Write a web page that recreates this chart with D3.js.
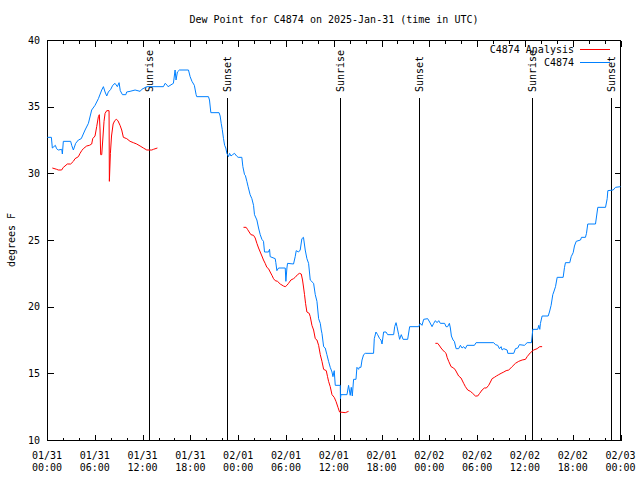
<!DOCTYPE html>
<html><head><meta charset="utf-8">
<script src="https://cdn.jsdelivr.net/npm/d3@7"></script>
<style>
body{margin:0;background:#fff}
svg{display:block}
text{font-family:"DejaVu Sans Mono","Liberation Mono",monospace;font-size:10px;fill:#000}
</style></head><body>
<svg id="c" width="640" height="480"></svg>
<script>
const chartTitle = "Dew Point for C4874 on 2025-Jan-31 (time in UTC)";
const yLabel = "degrees F";
const startTime = "2025-01-31T00:00:00Z";
const endTime = "2025-02-03T00:00:00Z";
const yTicks = [10, 15, 20, 25, 30, 35, 40];
const seriesNames = ["C4874 Analysis", "C4874"];
const seriesColors = ["#ff0000", "#0080ff"];

// hours after start, dew point (F)
const stationSeries = [[0.04,32.7],[0.55,32.7],[0.67,31.9],[1.05,32.1],[1.2,31.85],[1.42,31.75],[1.85,31.8],[1.93,31.45],[2.05,32.4],[2.97,32.4],[3.1,32.1],[3.31,31.75],[3.6,32.25],[3.94,32.5],[4.3,32.6],[4.78,33.25],[5.2,33.75],[5.61,34.75],[6.03,35.1],[6.45,35.6],[6.87,36.25],[7.08,36.5],[7.29,36.1],[7.5,35.8],[7.7,36.1],[8.0,36.3],[8.25,36.6],[8.54,36.75],[8.83,36.5],[9.05,36.8],[9.2,36.2],[9.47,35.9],[9.9,35.9],[10.0,36.1],[10.43,36.15],[11.06,36.25],[11.69,36.15],[11.9,36.3],[12.52,36.5],[14.62,36.5],[14.83,36.75],[15.1,36.6],[15.2,36.5],[15.87,36.75],[16.08,37.75],[16.2,37.0],[16.37,37.6],[16.63,37.75],[17.76,37.75],[17.97,37.25],[18.2,36.9],[18.5,36.6],[18.72,35.9],[18.8,35.75],[20.27,35.75],[20.4,35.5],[20.57,34.55],[21.6,34.55],[21.74,34.3],[21.87,33.75],[22.0,33.3],[22.16,32.6],[22.3,32.1],[22.45,31.9],[22.58,31.5],[22.79,31.25],[22.92,31.5],[23.1,31.3],[23.3,31.4],[23.54,31.5],[23.8,31.3],[24.0,31.2],[24.46,31.2],[24.59,30.5],[24.8,29.9],[24.9,29.85],[25.09,29.4],[25.25,29.0],[25.5,28.4],[25.72,28.1],[25.93,27.6],[26.05,26.9],[26.35,26.5],[26.56,25.9],[26.77,25.4],[26.98,25.05],[27.18,24.9],[27.31,24.1],[27.81,24.1],[27.94,24.3],[28.02,23.75],[28.65,23.6],[28.73,23.3],[28.86,22.7],[29.07,22.9],[29.91,22.9],[29.99,21.9],[30.12,22.9],[30.2,23.25],[30.95,23.2],[31.16,23.75],[31.29,24.2],[31.58,24.1],[31.79,24.25],[32.0,25.1],[32.2,25.2],[32.42,24.25],[32.63,23.6],[32.84,23.25],[33.05,22.0],[33.47,21.75],[33.68,20.9],[33.89,20.4],[34.1,19.1],[34.31,18.75],[34.43,18.25],[34.52,18.0],[34.73,17.0],[34.93,16.9],[35.14,16.4],[35.35,15.9],[35.56,15.45],[35.78,15.1],[35.9,14.75],[36.06,15.2],[36.19,14.1],[36.82,14.1],[36.84,13.1],[36.9,13.4],[37.66,13.4],[37.86,14.1],[38.07,13.35],[38.2,13.95],[38.33,13.3],[38.49,14.55],[38.79,14.55],[38.91,15.45],[39.12,15.3],[39.2,15.45],[39.41,15.45],[39.55,16.0],[39.75,16.4],[39.96,16.5],[41.0,16.5],[41.09,17.6],[41.3,18.1],[41.51,17.9],[41.76,17.6],[41.93,17.5],[42.06,17.2],[42.26,18.1],[42.56,18.1],[42.77,17.9],[43.52,17.9],[43.65,18.5],[43.82,18.8],[43.94,18.5],[44.15,17.9],[44.27,17.55],[44.48,17.9],[44.7,17.55],[45.28,17.55],[45.53,18.5],[46.66,18.5],[46.87,18.75],[47.08,18.6],[47.29,19.05],[47.79,19.1],[48.04,18.85],[48.34,18.5],[48.55,18.75],[48.76,18.95],[48.97,18.8],[49.18,18.95],[49.38,18.75],[49.92,18.75],[50.1,18.5],[50.3,18.5],[50.52,18.75],[50.64,18.4],[50.77,17.8],[50.98,17.5],[51.14,17.4],[51.36,16.85],[51.68,16.85],[51.9,17.1],[52.11,16.9],[52.31,17.0],[52.52,16.85],[52.73,17.1],[53.66,17.1],[53.87,17.3],[56.08,17.3],[56.3,17.15],[56.59,17.1],[56.8,16.85],[57.01,17.0],[57.14,16.75],[57.35,16.85],[57.77,16.75],[57.85,16.5],[58.6,16.5],[58.81,16.85],[59.1,16.9],[59.31,17.15],[59.94,17.1],[60.28,17.3],[60.82,17.3],[60.99,18.3],[61.61,18.3],[61.74,18.6],[61.87,18.3],[61.95,18.75],[62.16,19.3],[62.92,19.3],[63.08,19.6],[63.29,20.1],[63.5,20.9],[63.62,21.1],[63.84,21.5],[64.05,22.2],[64.8,22.2],[64.97,22.95],[65.09,23.3],[65.63,23.3],[65.81,23.75],[66.06,24.05],[66.22,24.55],[66.44,24.9],[66.98,25.0],[67.1,25.2],[67.6,25.2],[67.73,25.5],[67.89,26.2],[68.86,26.2],[69.15,27.45],[70.12,27.45],[70.33,28.1],[70.41,28.7],[71.08,28.75],[71.37,28.95],[72.0,29.0]];

const analysisSeg1 = [[0.67,30.4],[1.22,30.3],[1.42,30.25],[1.84,30.25],[2.05,30.45],[2.26,30.55],[2.55,30.7],[2.97,30.7],[3.31,30.9],[3.52,31.1],[3.94,31.25],[4.15,31.5],[4.36,31.7],[4.56,31.85],[4.98,32.05],[5.32,32.1],[5.61,32.2],[5.74,32.6],[6.03,32.8],[6.24,33.5],[6.45,34.25],[6.57,34.4],[6.66,33.25],[6.74,31.4],[6.87,31.4],[7.0,32.5],[7.16,33.9],[7.29,34.5],[7.5,34.7],[7.79,34.7],[7.83,29.4],[7.96,31.5],[8.1,32.8],[8.3,33.7],[8.5,33.95],[8.7,34.05],[8.9,33.95],[9.17,33.6],[9.38,33.25],[9.59,32.7],[10.01,32.6],[10.43,32.4],[10.84,32.3],[11.26,32.2],[11.69,32.05],[12.1,31.9],[12.53,31.75],[13.16,31.75],[13.36,31.8],[13.86,31.9]];
const analysisSeg2 = [[24.67,25.95],[25.0,25.95],[25.17,25.8],[25.38,25.6],[25.6,25.4],[25.93,25.35],[26.14,25.15],[26.35,24.75],[26.56,24.4],[26.77,24.1],[26.98,23.8],[27.18,23.5],[27.39,23.25],[27.6,22.95],[27.81,22.85],[28.02,22.6],[28.24,22.35],[28.44,22.1],[28.65,21.95],[28.94,21.9],[29.28,21.7],[29.69,21.55],[29.91,21.5],[30.12,21.6],[30.32,21.75],[30.62,22.0],[30.95,22.1],[31.16,22.2],[31.45,22.4],[31.7,22.5],[31.92,22.45],[32.08,22.0],[32.22,21.4],[32.33,20.9],[32.46,20.25],[32.55,19.9],[32.63,19.6],[32.76,19.55],[32.92,19.5],[33.05,19.25],[33.26,18.6],[33.47,18.25],[33.68,17.6],[33.89,17.5],[34.1,17.1],[34.31,16.4],[34.52,15.9],[34.73,15.3],[35.06,15.2],[35.22,14.75],[35.35,14.4],[35.56,14.0],[35.78,13.4],[36.06,13.2],[36.28,12.9],[36.53,12.45],[36.73,12.1],[37.45,12.05],[37.86,12.15]];
const analysisSeg3 = [[48.76,17.25],[49.05,17.25],[49.3,17.05],[49.47,16.9],[49.68,16.75],[49.92,16.6],[50.1,16.5],[50.23,16.2],[50.43,15.9],[50.73,15.5],[51.05,15.4],[51.27,15.25],[51.68,14.8],[51.98,14.65],[52.31,14.25],[52.53,14.0],[52.82,13.75],[53.15,13.65],[53.44,13.5],[53.78,13.3],[54.07,13.3],[54.32,13.5],[54.62,13.75],[54.91,13.9],[55.16,13.9],[55.45,14.1],[55.67,14.35],[55.88,14.6],[56.17,14.7],[56.42,14.8],[56.71,14.9],[57.01,15.0],[57.35,15.1],[57.64,15.2],[57.97,15.25],[58.39,15.5],[58.81,15.75],[59.22,15.9],[59.65,16.0],[60.07,16.05],[60.28,16.25],[60.69,16.55],[61.11,16.75],[61.53,16.85],[61.86,17.0],[62.16,17.0]];

const sunEventTimes = ["2025-01-31T12:51:00Z","2025-01-31T22:40:00Z","2025-02-01T12:51:00Z","2025-02-01T22:47:00Z","2025-02-02T12:59:00Z","2025-02-02T22:52:00Z"];
const sunEventLabels = ["Sunrise","Sunset","Sunrise","Sunset","Sunrise","Sunset"];

const svg = d3.select("#c");
const t0 = new Date(startTime), t1 = new Date(endTime);
const x = d3.scaleUtc().domain([t0, t1]).range([47, 620.5]);
const y = d3.scaleLinear().domain([10, 40]).range([440, 40]);
const hToDate = h => new Date(+t0 + h * 3600e3);

const majorX = d3.utcHour.every(6).range(t0, new Date(+t1 + 1));
const minorX = d3.utcHour.every(2).range(t0, new Date(+t1 + 1)).filter(d => d.getUTCHours() % 6 !== 0);

// frame
svg.append("rect").attr("x", 47.5).attr("y", 40.5).attr("width", 573).attr("height", 400)
  .attr("fill", "none").attr("stroke", "#000").attr("shape-rendering", "crispEdges");

function tickGroup(axis, tr) {
  const g = svg.append("g").attr("transform", tr).attr("shape-rendering", "crispEdges").call(axis);
  g.select(".domain").remove();
  g.selectAll("text").remove();
  g.selectAll("line").attr("stroke", "#000");
  return g;
}
tickGroup(d3.axisBottom(x).tickValues(majorX).tickSize(-6).tickFormat(""), "translate(0,440.5)");
tickGroup(d3.axisBottom(x).tickValues(minorX).tickSize(-3).tickFormat(""), "translate(0,440.5)");
tickGroup(d3.axisTop(x).tickValues(majorX).tickSize(-6).tickFormat(""), "translate(0,40.5)");
tickGroup(d3.axisTop(x).tickValues(minorX).tickSize(-3).tickFormat(""), "translate(0,40.5)");
tickGroup(d3.axisLeft(y).tickValues(yTicks).tickSize(-6).tickFormat(""), "translate(47.5,0)");
tickGroup(d3.axisRight(y).tickValues(yTicks).tickSize(-6).tickFormat(""), "translate(620.5,0)");

// x labels
const fmtD = d3.utcFormat("%m/%d"), fmtT = d3.utcFormat("%H:%M");
const xl = svg.append("g").selectAll("text").data(majorX).join("text")
  .attr("text-anchor", "middle").attr("transform", d => `translate(${x(d)},0)`);
xl.append("tspan").attr("x", 0).attr("y", 459).text(fmtD);
xl.append("tspan").attr("x", 0).attr("y", 471).text(fmtT);

// y labels
svg.append("g").selectAll("text").data(yTicks).join("text")
  .attr("x", 40).attr("y", d => y(d)).attr("dy", "0.35em").attr("text-anchor", "end").text(d => d);

// title & y label
svg.append("text").attr("x", 334).attr("y", 23).attr("text-anchor", "middle").text(chartTitle);
svg.append("text").attr("transform", "translate(15,240) rotate(-90)").attr("text-anchor", "middle").text(yLabel);

// sun events
const ev = svg.append("g").selectAll("g").data(sunEventTimes.map((s, i) => ({t: new Date(s), label: sunEventLabels[i]}))).join("g");
ev.append("line").attr("x1", d => Math.floor(x(d.t)) + 0.5).attr("x2", d => Math.floor(x(d.t)) + 0.5)
  .attr("y1", 98).attr("y2", 440).attr("stroke", "#000").attr("shape-rendering", "crispEdges");
ev.append("text").attr("transform", d => `translate(${Math.floor(x(d.t)) + 4},92) rotate(-90)`)
  .attr("text-anchor", "start").text(d => d.label);

// series
const line = d3.line().x(d => x(hToDate(d[0]))).y(d => y(d[1]));
[analysisSeg1, analysisSeg2, analysisSeg3].forEach(seg => {
  svg.append("path").datum(seg).attr("d", line).attr("fill", "none")
    .attr("stroke", seriesColors[0]).attr("stroke-width", 1);
});
svg.append("path").datum(stationSeries).attr("d", line).attr("fill", "none")
  .attr("stroke", seriesColors[1]).attr("stroke-width", 1);

// legend
const lg = svg.append("g").selectAll("g").data(seriesNames).join("g")
  .attr("transform", (d, i) => `translate(0,${49.5 + i * 13})`);
lg.append("text").attr("x", 574).attr("dy", "0.35em").attr("text-anchor", "end").text(d => d);
lg.append("line").attr("x1", 580).attr("x2", 610).attr("y1", 0).attr("y2", 0)
  .attr("stroke", (d, i) => seriesColors[i]).attr("shape-rendering", "crispEdges");
</script>
</body></html>
